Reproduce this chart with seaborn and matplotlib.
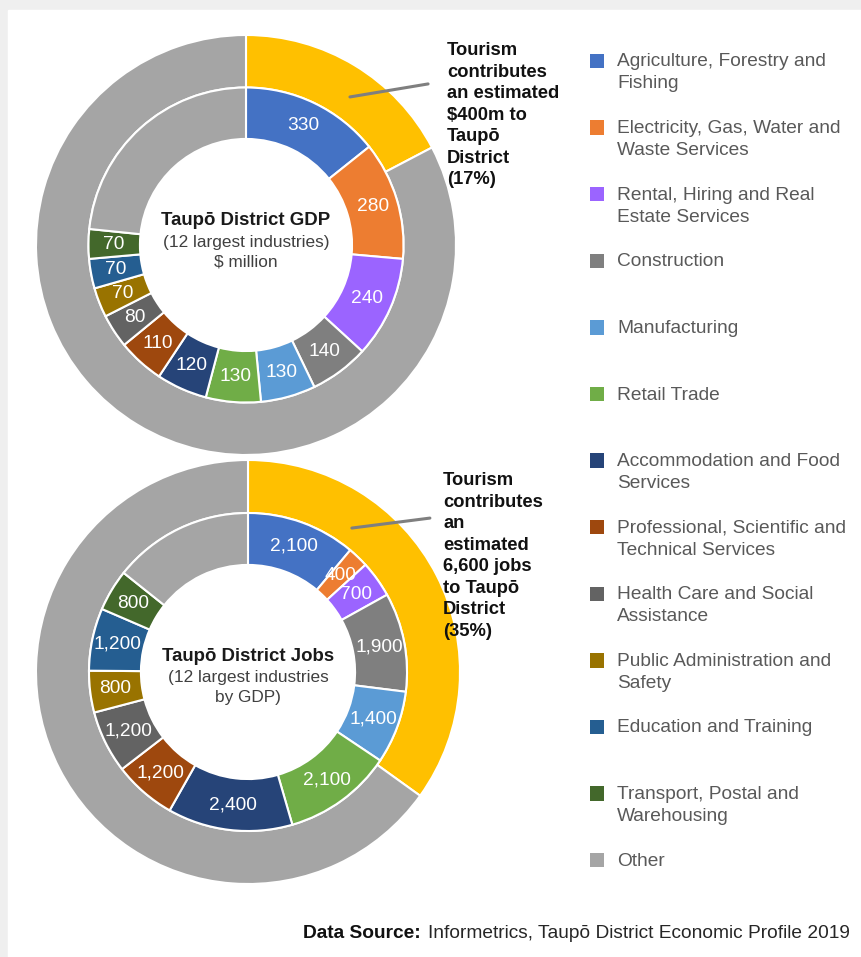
import numpy as np
import matplotlib.pyplot as plt
import seaborn as sns
from matplotlib.patches import Rectangle

sns.set_theme(style="white")
plt.rcParams['font.family'] = ['Liberation Sans', 'DejaVu Sans']

# ---- data ----
industries = [
    "Agriculture, Forestry and\nFishing",
    "Electricity, Gas, Water and\nWaste Services",
    "Rental, Hiring and Real\nEstate Services",
    "Construction",
    "Manufacturing",
    "Retail Trade",
    "Accommodation and Food\nServices",
    "Professional, Scientific and\nTechnical Services",
    "Health Care and Social\nAssistance",
    "Public Administration and\nSafety",
    "Education and Training",
    "Transport, Postal and\nWarehousing",
    "Other",
]
colors = ["#4472C4", "#ED7D31", "#9B64FF", "#7F7F7F", "#5B9BD5", "#70AD47",
          "#264478", "#9E480E", "#636363", "#997300", "#255E91", "#43682B",
          "#A5A5A5"]

# GDP, $ million (last = other industries)
gdp_values = [330, 280, 240, 140, 130, 130, 120, 110, 80, 70, 70, 70, 540]
gdp_labels = ["330", "280", "240", "140", "130", "130", "120", "110", "80", "70", "70", "70", ""]
gdp_tourism = 400

# jobs (last = other industries)
jobs_values = [2100, 400, 700, 1900, 1400, 2100, 2400, 1200, 1200, 800, 1200, 800, 2700]
jobs_labels = ["2,100", "400", "700", "1,900", "1,400", "2,100", "2,400", "1,200",
               "1,200", "800", "1,200", "800", ""]
jobs_tourism = 6600

tourism_colors = ["#FFC000", "#A5A5A5"]

W, H = 861, 957
fig = plt.figure(figsize=(W / 100, H / 100), dpi=100)

# light screenshot frame
bg = fig.add_axes([0, 0, 1, 1])
bg.set_xlim(0, W)
bg.set_ylim(H, 0)
bg.axis("off")
bg.add_patch(Rectangle((0, 0), W, H, color="#EFEFEF", zorder=0))
bg.add_patch(Rectangle((8, 10), W - 8, H - 10, color="white", zorder=1))


def donut(rect, values, labels, tourism):
    ax = fig.add_axes(rect)
    total = sum(values)
    # outer ring: tourism share
    ax.pie([tourism, total - tourism], radius=1.0, colors=tourism_colors,
           startangle=90, counterclock=False,
           wedgeprops=dict(width=0.25, edgecolor="white", linewidth=1.5))
    # inner ring: industries
    wedges, _ = ax.pie(values, radius=0.75, colors=colors,
                       startangle=90, counterclock=False,
                       wedgeprops=dict(width=0.245, edgecolor="white", linewidth=1.5))
    for w, lab in zip(wedges, labels):
        if not lab:
            continue
        ang = np.deg2rad((w.theta1 + w.theta2) / 2)
        r = 0.63
        ax.text(r * np.cos(ang), r * np.sin(ang), lab, ha="center", va="center",
                color="white", fontsize=13.8)
    ax.set_xlim(-1, 1)
    ax.set_ylim(-1, 1)
    ax.set_aspect("equal")
    ax.axis("off")
    return ax


# ---- top: GDP ----
ax1 = donut([36 / W, (H - 245 - 210) / H, 420 / W, 420 / H], gdp_values, gdp_labels, gdp_tourism)
ax1.text(0, 0.119, "Taupō District GDP", ha="center", va="center",
         fontsize=13.4, fontweight="bold", color="#1a1a1a")
ax1.text(0, 0.01, "(12 largest industries)", ha="center", va="center",
         fontsize=12.4, color="#404040")
ax1.text(0, -0.081, "$ million", ha="center", va="center",
         fontsize=12.4, color="#404040")
ax1.plot([0.495, 0.867], [0.705, 0.767], color="#7F7F7F", lw=2.2)
fig.text(447 / W, 1 - 42 / H,
         "Tourism\ncontributes\nan estimated\n$400m to\nTaupō\nDistrict\n(17%)",
         ha="left", va="top", fontsize=13.2, fontweight="bold", color="#111111",
         linespacing=1.35)

# ---- bottom: jobs ----
ax2 = donut([36 / W, (H - 672 - 212) / H, 424 / W, 424 / H], jobs_values, jobs_labels, jobs_tourism)
ax2.text(0, 0.071, "Taupō District Jobs", ha="center", va="center",
         fontsize=13.4, fontweight="bold", color="#1a1a1a")
ax2.text(0, -0.028, "(12 largest industries", ha="center", va="center",
         fontsize=12.4, color="#404040")
ax2.text(0, -0.118, "by GDP)", ha="center", va="center",
         fontsize=12.4, color="#404040")
ax2.plot([0.49, 0.858], [0.679, 0.726], color="#7F7F7F", lw=2.2)
fig.text(443 / W, 1 - 472 / H,
         "Tourism\ncontributes\nan\nestimated\n6,600 jobs\nto Taupō\nDistrict\n(35%)",
         ha="left", va="top", fontsize=13.2, fontweight="bold", color="#111111",
         linespacing=1.35)

# ---- legend ----
leg = fig.add_axes([0, 0, 1, 1])
leg.set_xlim(0, W)
leg.set_ylim(H, 0)
leg.axis("off")
y0, step = 61, 66.6
ys = [y0 + i * step for i in range(len(industries))]
leg.scatter([597] * len(ys), ys, marker="s", s=105, c=colors, linewidths=0)
for y, name in zip(ys, industries):
    leg.text(617, y + 5.5, name.split("\n")[0], ha="left", va="baseline",
             fontsize=13.8, color="#595959")
    if "\n" in name:
        leg.text(617, y + 27.5, name.split("\n")[1], ha="left", va="baseline",
                 fontsize=13.8, color="#595959")

# ---- source ----
fig.text(303 / W, 1 - 933 / H, "Data Source:", ha="left", va="center",
         fontsize=13.8, fontweight="bold", color="#111111")
fig.text(850 / W, 1 - 933 / H, "Informetrics, Taupō District Economic Profile 2019",
         ha="right", va="center", fontsize=13.8, color="#262626")

fig.savefig("out.png", dpi=100)
